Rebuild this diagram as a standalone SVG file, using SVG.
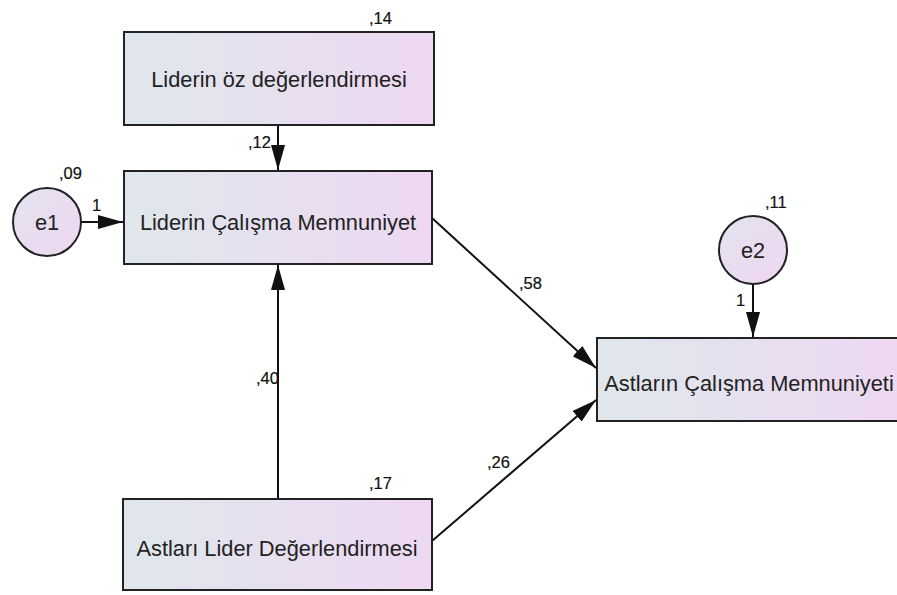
<svg xmlns="http://www.w3.org/2000/svg" width="897" height="595" viewBox="0 0 897 595">
  <defs>
    <linearGradient id="boxFill" x1="0" y1="0" x2="1" y2="0">
      <stop offset="0" stop-color="#dfe7ec"/>
      <stop offset="1" stop-color="#eed8f2"/>
    </linearGradient>
    <linearGradient id="circleFill" x1="0" y1="0" x2="1" y2="1">
      <stop offset="0" stop-color="#e3e3ef"/>
      <stop offset="1" stop-color="#efd6f1"/>
    </linearGradient>
    <marker id="arrow" markerWidth="25" markerHeight="14" refX="25" refY="7" orient="auto" markerUnits="userSpaceOnUse">
      <path d="M0,0 L25,7 L0,14 Z" fill="#111"/>
    </marker>
  </defs>
  <style>
    .box { fill: url(#boxFill); stroke: #222; stroke-width: 2; }
    .circ { fill: url(#circleFill); stroke: #222; stroke-width: 2; }
    .lbl { font-family: "Liberation Sans", Arial, sans-serif; font-size: 21.8px; fill: #222; text-anchor: middle; }
    .num { font-family: "Liberation Sans", Arial, sans-serif; font-size: 16.5px; fill: #111; stroke: #111; stroke-width: 0.2; }
    .edge { stroke: #111; stroke-width: 2; fill: none; marker-end: url(#arrow); }
  </style>
  <rect width="897" height="595" fill="#fff"/>

  <g id="connectors">
    <line class="edge" x1="278" y1="125" x2="278" y2="170"/>
    <line class="edge" x1="82" y1="222" x2="123" y2="222"/>
    <line class="edge" x1="278" y1="499" x2="278" y2="265"/>
    <line class="edge" x1="432" y1="218" x2="596" y2="368"/>
    <line class="edge" x1="432" y1="541" x2="596" y2="400"/>
    <line class="edge" x1="753" y1="284" x2="753" y2="337"/>
    <text class="num" x="248" y="148">,12</text>
    <text class="num" x="92" y="211">1</text>
    <text class="num" x="256" y="384">,40</text>
    <text class="num" x="519" y="289">,58</text>
    <text class="num" x="487" y="468">,26</text>
    <text class="num" x="736" y="306">1</text>
  </g>

  <g id="n-lider-oz">
    <rect class="box" x="124" y="32" width="310" height="93"/>
    <text class="lbl" x="279" y="87">Liderin öz değerlendirmesi</text>
    <text class="num" x="369" y="24">,14</text>
  </g>

  <g id="n-lider-calisma">
    <rect class="box" x="124" y="171" width="308" height="93"/>
    <text class="lbl" x="278" y="230">Liderin Çalışma Memnuniyet</text>
  </g>

  <g id="n-e1">
    <circle class="circ" cx="47" cy="222" r="34"/>
    <text class="lbl" x="47" y="230">e1</text>
    <text class="num" x="59" y="179">,09</text>
  </g>

  <g id="n-astlari-lider">
    <rect class="box" x="123" y="499" width="309" height="91"/>
    <text class="lbl" x="277" y="556">Astları Lider Değerlendirmesi</text>
    <text class="num" x="369" y="489">,17</text>
  </g>

  <g id="n-e2">
    <circle class="circ" cx="753" cy="250" r="34"/>
    <text class="lbl" x="753" y="258">e2</text>
    <text class="num" x="765" y="208">,11</text>
  </g>

  <g id="n-astlarin-calisma">
    <rect class="box" x="597" y="338" width="310" height="83"/>
    <text class="lbl" x="749" y="391">Astların Çalışma Memnuniyeti</text>
  </g>
</svg>
